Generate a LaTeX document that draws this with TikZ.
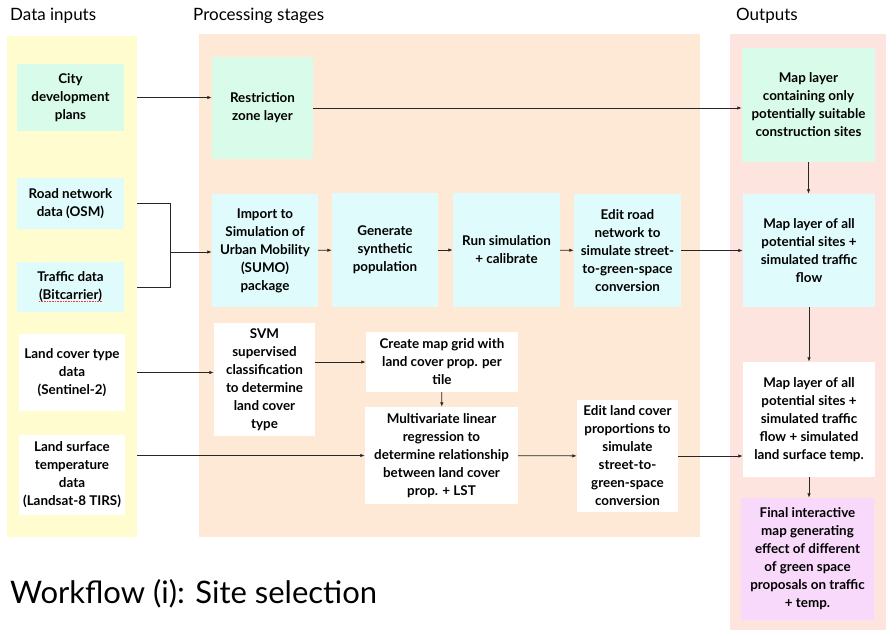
\documentclass[tikz,border=0pt]{standalone}
\usepackage{fontspec}
\setmainfont{Lato}
\usepackage{tikz}
\usetikzlibrary{arrows.meta, positioning}

\definecolor{inyellow}{RGB}{255,253,208}
\definecolor{procpeach}{RGB}{253,233,213}
\definecolor{outpink}{RGB}{253,228,222}
\definecolor{boxgreen}{RGB}{217,251,233}
\definecolor{boxcyan}{RGB}{224,251,252}
\definecolor{boxpurple}{RGB}{249,217,251}

\begin{document}
\begin{tikzpicture}[x=1pt, y=-1pt,
        panel/.style={inner sep=0pt, draw=none},
        header/.style={anchor=base west, inner sep=0pt, font=\fontsize{17}{20}\selectfont},
        box/.style={inner sep=0pt, align=center, font=\bfseries\fontsize{13.4}{18}\selectfont},
        flow/.style={line width=0.8pt, black!85},
        >={Latex[length=4.5pt, width=3.5pt]}]
        \useasboundingbox (0,0) rectangle (896,636);

        \node[panel, fill=inyellow, minimum width=130, minimum height=501] (inputs) at (72,286.5) {};
        \node[panel, fill=procpeach, minimum width=501, minimum height=503] (stages) at (449.5,285.5) {};
        \node[panel, fill=outpink, minimum width=156, minimum height=596] (outputs) at (808,332) {};

        \node[header] (hin) at (10,21) {Data inputs};
        \node[header] (hstages) at (193,21) {Processing stages};
        \node[header] (hout) at (736,21) {Outputs};

        \node[box, fill=boxgreen, minimum width=107, minimum height=67] (city) at (70.5,97.5) {City\\development\\plans};
        \node[box, fill=boxcyan, minimum width=107, minimum height=51] (road) at (70.5,203.5) {Road network\\data (OSM)};
        \node[box, fill=boxcyan, minimum width=107, minimum height=50] (traffic) at (70.5,287) {Traffic data\\(Bitcarrier)};
        \node[box, fill=white, minimum width=106, minimum height=77] (landcov) at (72,372.5) {Land cover type\\data\\(Sentinel-2)};
        \node[box, fill=white, minimum width=106, minimum height=80] (lst) at (72,475) {Land surface\\temperature\\data\\(Landsat-8 TIRS)};

        \node[box, fill=boxgreen, minimum width=101, minimum height=102] (restr) at (262.5,108) {Restriction\\zone layer};
        \node[box, fill=boxcyan, minimum width=106, minimum height=113] (sumo) at (265,250.5) {Import to\\Simulation of\\Urban Mobility\\(SUMO)\\package};
        \node[box, fill=boxcyan, minimum width=106, minimum height=114] (synth) at (385,250) {Generate\\synthetic\\population};
        \node[box, fill=boxcyan, minimum width=107, minimum height=114] (runsim) at (506.5,250) {Run simulation\\+ calibrate};
        \node[box, fill=boxcyan, minimum width=107, minimum height=113] (editroad) at (627.5,250.5) {Edit road\\network to\\simulate street-\\to-green-space\\conversion};
        \node[box, fill=white, minimum width=101, minimum height=113] (svm) at (264.5,379.5) {SVM\\supervised\\classification\\to determine\\land cover\\type};
        \node[box, fill=white, minimum width=152, minimum height=60] (grid) at (442,362) {Create map grid with\\land cover prop. per\\tile};
        \node[box, fill=white, minimum width=153, minimum height=97] (regr) at (441.5,455.5) {Multivariate linear\\regression to\\determine relationship\\between land cover\\prop. + LST};
        \node[box, fill=white, minimum width=101, minimum height=112] (editlc) at (627.5,456) {Edit land cover\\proportions to\\simulate\\street-to-\\green-space\\conversion};

        \node[box, fill=boxgreen, minimum width=133, minimum height=114] (outsites) at (808.5,105) {Map layer\\containing only\\potentially suitable\\construction sites};
        \node[box, fill=boxcyan, minimum width=132, minimum height=113] (outtraffic) at (809,250.5) {Map layer of all\\potential sites +\\simulated traffic\\flow};
        \node[box, fill=white, minimum width=132, minimum height=115] (outtemp) at (809,419.5) {Map layer of all\\potential sites +\\simulated traffic\\flow + simulated\\land surface temp.};
        \node[box, fill=boxpurple, minimum width=133, minimum height=122] (final) at (807.5,559) {Final interactive\\map generating\\effect of different\\of green space\\proposals on traffic\\+ temp.};

        \node[anchor=base west, inner sep=0pt, font=\fontsize{31}{36}\selectfont] (title) at (10,603) {Workflow (i): Site selection};

        \draw[red!80, densely dotted, line width=0.6pt] (39,301) -- (102,301);

        \coordinate (rj) at (170,252);
        \draw[flow] (inputs.east |- road) -| (rj)
            (inputs.east |- traffic) -| (rj);
        \draw[flow, ->] (inputs.east |- city) -- (restr.west |- city);
        \draw[flow, ->] (restr) -- (outsites.west |- restr);
        \draw[flow, ->] (rj) -- (sumo.west |- rj);
        \draw[flow, ->] (sumo) -- (synth);
        \draw[flow, ->] (synth) -- (runsim);
        \draw[flow, ->] (runsim) -- (editroad);
        \draw[flow, ->] (editroad) -- (outtraffic);
        \draw[flow, ->] (inputs.east |- landcov) -- (svm.west |- landcov);
        \draw[flow, ->] (svm.east |- grid) -- (grid);
        \draw[flow, ->] (grid) -- (regr);
        \draw[flow, ->] (inputs.east |- regr) -- (regr);
        \draw[flow, ->] (regr) -- (editlc);
        \draw[flow, ->] (editlc) -- (outtemp.west |- editlc);
        \draw[flow, ->] (outsites) -- (outsites |- outtraffic.north);
        \draw[flow, ->] (outtraffic) -- (outtraffic |- outtemp.north);
        \draw[flow, ->] (outtemp) -- (outtemp |- final.north);
\end{tikzpicture}
\end{document}
